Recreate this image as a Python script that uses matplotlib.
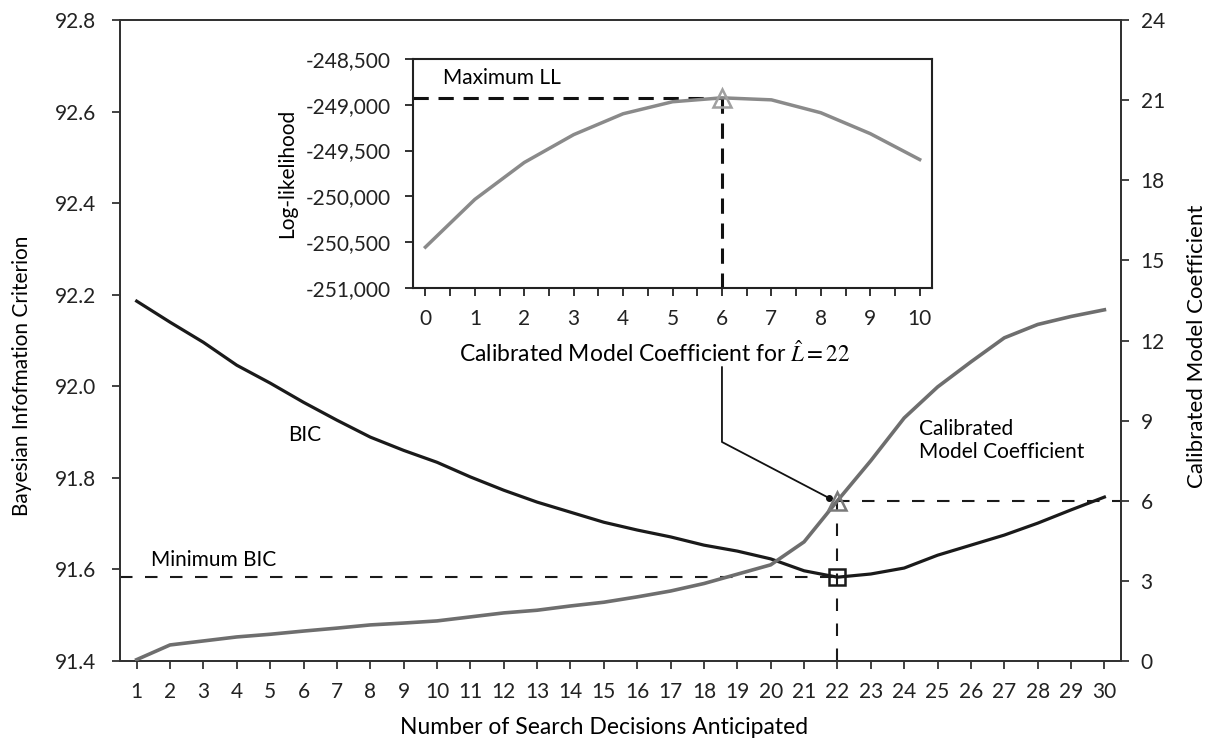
import matplotlib
matplotlib.use('Agg')
import matplotlib.pyplot as plt
from matplotlib.ticker import FuncFormatter, MultipleLocator
import numpy as np

plt.rcParams['font.family'] = ['Lato', 'DejaVu Sans']
plt.rcParams['font.size'] = 15
plt.rcParams['mathtext.fontset'] = 'stix'
plt.rcParams['lines.scale_dashes'] = False

# ---------------- data ----------------
decisions = list(range(1, 31))
bic = [92.186, 92.140, 92.096, 92.046, 92.007, 91.965, 91.926, 91.889, 91.860, 91.834,
       91.802, 91.773, 91.747, 91.725, 91.703, 91.686, 91.671, 91.653, 91.640, 91.623,
       91.597, 91.583, 91.590, 91.603, 91.631, 91.653, 91.675, 91.701, 91.730, 91.758]
coef = [0.05, 0.60, 0.75, 0.90, 1.00, 1.12, 1.23, 1.35, 1.42, 1.50,
        1.65, 1.80, 1.90, 2.06, 2.20, 2.40, 2.62, 2.90, 3.25, 3.60,
        4.46, 6.00, 7.50, 9.10, 10.26, 11.20, 12.10, 12.60, 12.90, 13.15]

inset_coef = list(range(0, 11))
loglik = [-250554, -250033, -249630, -249326, -249098, -248967, -248924,
          -248946, -249087, -249315, -249598]

best = int(np.argmin(bic))
n_best, bic_best, coef_best = decisions[best], bic[best], coef[best]
imax = int(np.argmax(loglik))
c_max, ll_max = inset_coef[imax], loglik[imax]

# ---------------- figure ----------------
fig = plt.figure(figsize=(12.12, 7.42), dpi=100)
ax = fig.add_axes([0.099, 0.1092, 0.826, 0.8638])
ax2 = ax.twinx()

spine_c = '#333333'
for a in (ax, ax2):
    for s in a.spines.values():
        s.set_color(spine_c)
        s.set_linewidth(1.4)

ax.set_xlim(0.5, 30.5)
ax.set_ylim(91.4, 92.8)
ax2.set_ylim(0, 24)
ax.set_xticks(decisions)
ax.set_yticks(np.arange(91.4, 92.81, 0.2))
ax.yaxis.set_major_formatter(FuncFormatter(lambda v, p: f'{v:.1f}'))
ax2.yaxis.set_major_locator(MultipleLocator(3))
ax.tick_params(axis='x', direction='out', length=6, width=1.2, pad=9, colors='#222222')
ax.tick_params(axis='y', direction='out', length=6, width=1.2, pad=11, colors='#222222')
ax2.tick_params(axis='y', direction='out', length=6, width=1.2, pad=8, colors='#222222')

# curves
ax.plot(decisions, bic, color='#1a1a1a', lw=2.3, zorder=3)
ax2.plot(decisions, coef, color='#6e6e6e', lw=2.6, zorder=3)

# guide lines
dash_main = (0, (9, 9))
ax.plot([0.5, n_best], [bic_best, bic_best], color='#1a1a1a', lw=1.5, ls=dash_main)
ax2.plot([n_best, n_best], [0, coef_best], color='#1a1a1a', lw=1.5, ls=dash_main)
ax2.plot([n_best, 30.5], [coef_best, coef_best], color='#1a1a1a', lw=1.5, ls=dash_main)

# markers
ax.plot(n_best, bic_best, marker='s', ms=12, mfc='none', mec='#1a1a1a', mew=1.8, zorder=5)
ax2.plot(n_best, coef_best, marker='^', ms=13, mfc='none', mec='#7a7a7a', mew=1.8, zorder=5)

# text labels
ax.text(6.04, 91.893, 'BIC', ha='center', va='center', fontsize=15)
ax.text(1.42, 91.62, 'Minimum BIC', ha='left', va='center', fontsize=15)
ax2.text(24.43, 8.26, 'Calibrated\nModel Coefficient', ha='left', va='center',
         fontsize=15, linespacing=1.15)

ax.set_xlabel('Number of Search Decisions Anticipated', fontsize=16.5)
ax.xaxis.set_label_coords(0.4835, -0.1045)
ax.xaxis.label.set_va('center')
ax.set_ylabel('Bayesian Infofmation Criterion', fontsize=15)
ax.yaxis.set_label_coords(-0.098, 0.445)
ax.yaxis.label.set_va('center')
ax2.set_ylabel('Calibrated Model Coefficient', fontsize=16, rotation=90)
ax2.yaxis.set_label_coords(1.076, 0.491)
ax2.yaxis.label.set_va('center')

# ---------------- inset ----------------
axi = fig.add_axes([0.3408, 0.6119, 0.4282, 0.3086])
axi.set_facecolor('white')
for s in axi.spines.values():
    s.set_color('#222222')
    s.set_linewidth(1.5)
axi.set_xlim(-0.25, 10.25)
axi.set_ylim(-251000, -248500)
axi.set_xticks(inset_coef)
axi.xaxis.set_minor_locator(MultipleLocator(0.5))
axi.yaxis.set_major_locator(MultipleLocator(500))
axi.yaxis.set_major_formatter(FuncFormatter(lambda v, p: f'{v:,.0f}'))
axi.tick_params(axis='x', which='both', direction='out', length=6, width=1.3, pad=9, colors='#222222')
axi.tick_params(axis='y', direction='out', length=6, width=1.3, pad=10, colors='#222222')

axi.plot(inset_coef, loglik, color='#8a8a8a', lw=2.5, zorder=3)
dash_in = (0, (11, 7))
axi.plot([-0.25, c_max], [ll_max, ll_max], color='#111111', lw=2.2, ls=dash_in)
axi.plot([c_max, c_max], [ll_max, -251000], color='#111111', lw=2.2, ls=dash_in)
axi.plot(c_max, ll_max, marker='^', ms=13, mfc='none', mec='#a0a0a0', mew=1.8, zorder=5)
axi.text(0.35, -248707, 'Maximum LL', ha='left', va='center', fontsize=15)

axi.set_xlabel(r'Calibrated Model Coefficient for $\hat{L} = 22$', fontsize=16.5)
axi.xaxis.set_label_coords(0.466, -0.284)
axi.xaxis.label.set_va('center')
axi.set_ylabel('Log-likelihood', fontsize=15)
axi.yaxis.set_label_coords(-0.243, 0.5)
axi.yaxis.label.set_va('center')

# connector from inset label down to the calibrated coefficient marker
x_disp = axi.transData.transform((c_max, 0))[0]
x_conn = ax2.transData.inverted().transform((x_disp, 0))[0]
ax2.plot([x_conn, x_conn, n_best - 0.25], [11.0, 8.2, coef_best + 0.1],
         color='#111111', lw=1.3, zorder=4)
ax2.plot(n_best - 0.25, coef_best + 0.1, marker='o', ms=4, color='#111111', zorder=4)

fig.savefig('out.png', dpi=100, facecolor='white')
